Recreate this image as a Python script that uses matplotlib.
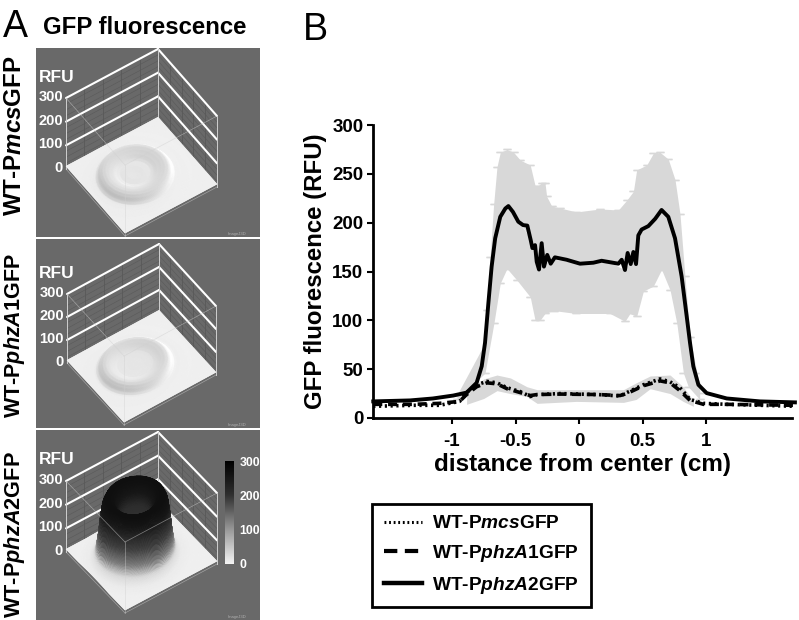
import numpy as np
import matplotlib
matplotlib.use('Agg')
import matplotlib.pyplot as plt
from matplotlib.collections import PolyCollection
from matplotlib.colors import LinearSegmentedColormap
from matplotlib.lines import Line2D

plt.rcParams['font.family'] = ['Liberation Sans', 'DejaVu Sans']
plt.rcParams['mathtext.fontset'] = 'custom'
plt.rcParams['mathtext.it'] = 'Liberation Sans:italic:bold'
plt.rcParams['mathtext.rm'] = 'Liberation Sans:bold'

# panel B, mean curves
a2_x = [-1.62, -1.33, -1.15, -0.99, -0.885, -0.806, -0.766, -0.74, -0.714, -0.688, -0.66, -0.62, -0.58, -0.556,
        -0.52, -0.478, -0.44, -0.407, -0.38, -0.367, -0.346, -0.333, -0.315, -0.294, -0.276, -0.25, -0.223, -0.19,
        -0.097, 0.008, 0.113, 0.178, 0.31, 0.336, 0.362, 0.383, 0.407, 0.428, 0.449, 0.467, 0.493, 0.546, 0.6,
        0.65, 0.703, 0.756, 0.808, 0.848, 0.874, 0.9, 0.94, 1.005, 1.163, 1.425, 1.70]
a2_y = [17, 18, 20, 23, 26, 36, 53, 77, 117, 155, 184, 206, 214.5, 217,
        211, 201, 197.5, 197, 182, 174, 177, 160, 152, 179, 155, 167, 158, 164.5,
        162, 158, 159, 161, 158, 162, 151.5, 169, 157.6, 170, 157.6, 187, 193, 196.5, 204,
        213, 206, 184, 145, 104, 77, 53, 34, 25.5, 20, 17, 16]

mcs_x = [-1.62, -1.3, -1.1, -0.94, -0.885, -0.806, -0.725, -0.646, -0.567, -0.462, -0.384, -0.33, -0.15,
         0.15, 0.323, 0.376, 0.507, 0.638, 0.717, 0.795, 0.874, 0.98, 1.163, 1.70]
mcs_y = [12, 13, 13, 17, 26, 34, 37.5, 36, 31, 27, 22, 24, 25, 24, 22.5, 26, 34, 40, 37, 31, 19, 15, 14, 12]
a1_y = [14, 14, 15, 17, 24, 32, 36, 35, 30, 26, 23, 24, 24.5, 24, 23, 25, 33, 38, 36, 28, 18, 14, 14, 13]

# grey error band of WT-PphzA2GFP
a2_band_up_x = [-0.94, -0.806, -0.75, -0.725, -0.7, -0.672, -0.646, -0.62, -0.567, -0.515, -0.462, -0.384, -0.346,
                -0.32, -0.294, -0.268, -0.255, -0.215, -0.15, -0.02, 0.165, 0.31, 0.376, 0.428, 0.454, 0.533, 0.585,
                0.638, 0.703, 0.756, 0.795, 0.834, 0.874, 0.913, 0.979]
a2_band_up_y = [23, 36, 67, 111, 165, 219, 257, 272, 275, 272, 264, 259, 238, 238, 241, 241, 227, 217, 215, 211,
                214, 213, 223, 232, 254, 259, 271, 272, 265, 244, 209, 145, 83, 46, 26]
a2_band_lo_x = [-0.96, -0.74, -0.67, -0.62, -0.567, -0.488, -0.384, -0.346, -0.307, -0.268, -0.2, -0.02, 0.244,
                0.362, 0.401, 0.454, 0.507, 0.585, 0.65, 0.717, 0.77, 0.822, 0.861, 0.95]
a2_band_lo_y = [19, 46, 97, 138, 153, 141, 124, 100, 100, 107, 110, 107, 107, 99, 107, 104, 130, 135, 152, 131,
                97, 46, 32, 19]

# grey error band of the two low strains
low_band_x = [-0.885, -0.75, -0.646, -0.54, -0.41, -0.33, -0.02, 0.35, 0.45, 0.56, 0.717, 0.82, 0.9]
low_band_up = [25, 40, 44, 41, 32, 29, 29, 29, 36, 43, 44, 32, 18]
low_band_lo = [14, 20, 28, 25, 22, 15, 17, 16, 19, 30, 25, 17, 12]

# panel A, radial height profiles (cm, RFU)
surf_r = [0.0, 0.2, 0.35, 0.42, 0.5, 0.6, 0.68, 0.75, 0.8, 0.85, 0.9, 0.95, 1.05, 1.3, 2.5]
surf_mcs = [24, 25, 24, 27, 33, 38, 40, 38, 32, 22, 15, 14, 13, 12, 12]
surf_a1 = [24, 24, 25, 26, 30, 36, 39, 37, 30, 20, 14, 13, 13, 12, 12]
surf_a2 = [170, 172, 178, 220, 252, 262, 260, 235, 180, 105, 50, 30, 17, 12, 12]

# surface grey against height
grey_z = [12, 40, 80, 140, 220, 300]
grey_v = [0.95, 0.86, 0.5, 0.25, 0.09, 0.03]

panel_labels = ['WT-P$\\mathit{mcs}$GFP', 'WT-P$\\mathit{phzA1}$GFP', 'WT-P$\\mathit{phzA}$2GFP']
panel_label_size = [17.4, 15.5, 15.7]
z_ticks = [0, 100, 200, 300]
cbar_ticks = [0, 100, 200, 300]
grey_cmap = LinearSegmentedColormap.from_list('rfu', [(0, '#f4f4f4'), (0.33, '#9a9a9a'), (0.67, '#303030'), (1, '#000000')])


def draw_panel(ax, bg, back, left, right, zscale, profile, shade):
    ax.fill([36, 260, 260, 36], [bg[0], bg[0], bg[1], bg[1]], color='#696969', lw=0, zorder=1)

    back = np.array(back, float)
    du = np.array(left, float) - back
    dv = np.array(right, float) - back

    def proj(u, v, z):
        return (back[0] + u * du[0] + v * dv[0], back[1] + u * du[1] + v * dv[1] - z * zscale)

    # walls: dark grid lines then the thick white levels
    for t in np.linspace(0, 1, 6)[1:-1]:
        for a in [(t, 0), (0, t)]:
            x0, y0 = proj(a[0], a[1], 0)
            x1, y1 = proj(a[0], a[1], 300)
            ax.plot([x0, x1], [y0, y1], color='#555555', lw=0.5, zorder=2)
    for z in np.arange(25, 300, 25):
        for end in [(1, 0), (0, 1)]:
            x0, y0 = proj(0, 0, z)
            x1, y1 = proj(end[0], end[1], z)
            ax.plot([x0, x1], [y0, y1], color='#5a5a5a', lw=0.4, zorder=2)
    for z in [100, 200, 300]:
        for end in [(1, 0), (0, 1)]:
            x0, y0 = proj(0, 0, z)
            x1, y1 = proj(end[0], end[1], z)
            ax.plot([x0, x1], [y0, y1], color='white', lw=1.5, zorder=3, solid_capstyle='round')
    for c in [(0, 0), (1, 0), (0, 1)]:
        x0, y0 = proj(c[0], c[1], 0)
        x1, y1 = proj(c[0], c[1], 300)
        ax.plot([x0, x1], [y0, y1], color='#cfcfcf', lw=0.7, zorder=3)

    # height field, painted from the back corner to the front one
    n = 170
    uu, vv = np.meshgrid(np.linspace(0, 1, n + 1), np.linspace(0, 1, n + 1), indexing='ij')
    rr = np.hypot(uu - 0.55, vv - 0.47) * 2.5
    zz = np.interp(rr, surf_r, profile)
    xx, yy = proj(uu, vv, zz)
    dzu, dzv = np.gradient(zz)
    val = 0.25 * (zz[:-1, :-1] + zz[1:, 1:] + zz[1:, :-1] + zz[:-1, 1:])
    grey = np.interp(val, grey_z, grey_v)
    light = (dzu + dzv * 0.3)[:-1, :-1]
    grey = np.clip(grey + shade * light, 0, 1)
    polys = np.stack([np.stack([xx[:-1, :-1], yy[:-1, :-1]], -1), np.stack([xx[1:, :-1], yy[1:, :-1]], -1),
                      np.stack([xx[1:, 1:], yy[1:, 1:]], -1), np.stack([xx[:-1, 1:], yy[:-1, 1:]], -1)], 2)
    order = np.argsort((uu + vv)[:-1, :-1].ravel(), kind='stable')
    polys = polys.reshape(-1, 4, 2)[order]
    cols = np.repeat(grey.ravel()[order][:, None], 3, axis=1)
    ax.add_collection(PolyCollection(polys, facecolors=cols, edgecolors=cols, linewidths=0.3, zorder=4))

    # thin front edges of the box
    lt = proj(1, 0, 300)
    rt = proj(0, 1, 300)
    ft = proj(1, 1, 300)
    fb = proj(1, 1, 0)
    lb = proj(1, 0, 0)
    rb = proj(0, 1, 0)
    for a, b in [(lt, ft), (rt, ft), (ft, fb), (lb, fb), (rb, fb)]:
        ax.plot([a[0], b[0]], [a[1], b[1]], color='#d0d0d0', lw=0.5, alpha=0.55, zorder=5)

    # labels
    for z in z_ticks:
        x0, y0 = proj(1, 0, z)
        ax.text(x0 - 3, y0 - 1, str(z), color='white', fontsize=10.5, fontweight='bold', ha='right', va='center', zorder=6)
    x0, y0 = proj(1, 0, 300)
    ax.text(39, y0 - 21, 'RFU', color='white', fontsize=12.5, fontweight='bold', ha='left', va='center', zorder=6)
    ax.text(228, bg[1] - 3, 'ImageJ3D', color='#b0b0b0', fontsize=3, ha='left', va='center', zorder=6)


fig = plt.figure(figsize=(7.99, 6.2), dpi=100)

# overlay in picture pixels for panel A
over = fig.add_axes([0, 0, 1, 1])
over.set_xlim(0, 799)
over.set_ylim(620, 0)
over.axis('off')

draw_panel(over, (48, 237), (158, 120), (66, 169), (217, 187), 71 / 300, surf_mcs, 0.05)
draw_panel(over, (239, 428), (159, 313), (67, 363), (216, 375), 69 / 300, surf_a1, 0.05)
draw_panel(over, (430, 620), (158, 503), (66, 552), (217, 564), 71 / 300, surf_a2, 0.0)

over.text(3, 27, 'A', fontsize=27, ha='left', va='center')
over.text(43, 28, 'GFP fluorescence', fontsize=17.3, fontweight='bold', ha='left', va='center')
over.text(303, 30, 'B', fontsize=27, ha='left', va='center')
for lab, yc, size in zip(panel_labels, [136, 336, 535], panel_label_size):
    over.text(15, yc, lab, rotation=90, fontsize=size, fontweight='bold', ha='center', va='center')

# colour bar of the bottom panel
cax = fig.add_axes([225 / 799, 1 - 564 / 620, 9 / 799, 103 / 620])
cax.imshow(np.linspace(300, 0, 256)[:, None], cmap=grey_cmap, vmin=0, vmax=300, aspect='auto', extent=(0, 1, 0, 300))
cax.set_xticks([])
cax.yaxis.tick_right()
cax.set_yticks(cbar_ticks)
cax.tick_params(axis='y', length=0, pad=4, labelcolor='white', labelsize=8.8)
for t in cax.get_yticklabels():
    t.set_fontweight('bold')
for s in cax.spines.values():
    s.set_visible(False)

# panel B
ax = fig.add_axes([373 / 799, 1 - 418 / 620, (792 - 373) / 799, (418 - 125) / 620])
ax.set_xlim(-1.622, 1.677)
ax.set_ylim(0, 300)
ax.patch.set_alpha(0)
ax.fill_between(a2_band_up_x, a2_band_up_y, np.interp(a2_band_up_x, a2_x, a2_y), color='#d8d8d8', lw=0)
ax.fill_between(a2_band_lo_x, a2_band_lo_y, np.interp(a2_band_lo_x, a2_x, a2_y), color='#d8d8d8', lw=0)
ax.fill_between(low_band_x, low_band_lo, low_band_up, color='#d8d8d8', lw=0)
# whisker caps along the band edges
ax.errorbar(a2_band_up_x, a2_band_up_y, yerr=0, fmt='none', ecolor='#d8d8d8', capsize=3, capthick=1)
ax.errorbar(a2_band_lo_x, a2_band_lo_y, yerr=0, fmt='none', ecolor='#d8d8d8', capsize=3, capthick=1)

l_mcs, = ax.plot(mcs_x, mcs_y, color='black', lw=2.6, ls=(0, (0.6, 1.0)), clip_on=False)
l_a1, = ax.plot(mcs_x, a1_y, color='black', lw=2.6, ls=(0, (2.5, 1.6)), clip_on=False)
l_a2, = ax.plot(a2_x, a2_y, color='black', lw=2.8, clip_on=False)

for side in ['top', 'right']:
    ax.spines[side].set_visible(False)
for side in ['left', 'bottom']:
    ax.spines[side].set_linewidth(2)
ax.set_yticks([0, 50, 100, 150, 200, 250, 300])
ax.set_xticks([-1, -0.5, 0, 0.5, 1])
ax.set_xticklabels(['-1', '-0.5', '0', '0.5', '1'])
ax.tick_params(axis='both', width=1.5, length=4, labelsize=13.5)
ax.tick_params(axis='y', pad=3)
ax.tick_params(axis='x', pad=7)
for t in ax.get_xticklabels() + ax.get_yticklabels():
    t.set_fontweight('bold')
ax.set_xlabel('distance from center (cm)', fontsize=17.5, fontweight='bold', labelpad=2)
ax.set_ylabel('GFP fluorescence (RFU)', fontsize=17.3, fontweight='bold', labelpad=4)

handles = [Line2D([], [], color='black', lw=2.2, ls=(0, (0.6, 0.9))),
           Line2D([], [], color='black', lw=3, ls=(0, (3.2, 1.8))),
           Line2D([], [], color='black', lw=3.2)]
leg = fig.legend(handles, ['WT-P$\\mathit{mcs}$GFP', 'WT-P$\\mathit{phzA1}$GFP', 'WT-P$\\mathit{phzA}$2GFP'],
                 loc='lower left', bbox_to_anchor=(372 / 799, 1 - 607 / 620), fancybox=False, edgecolor='black',
                 framealpha=1, handlelength=2.0, handletextpad=0.55, labelspacing=0.55, borderpad=0.6,
                 prop={'size': 13.8, 'weight': 'bold'}, borderaxespad=0)
leg.get_frame().set_linewidth(2)

fig.savefig('out.png', dpi=100)
